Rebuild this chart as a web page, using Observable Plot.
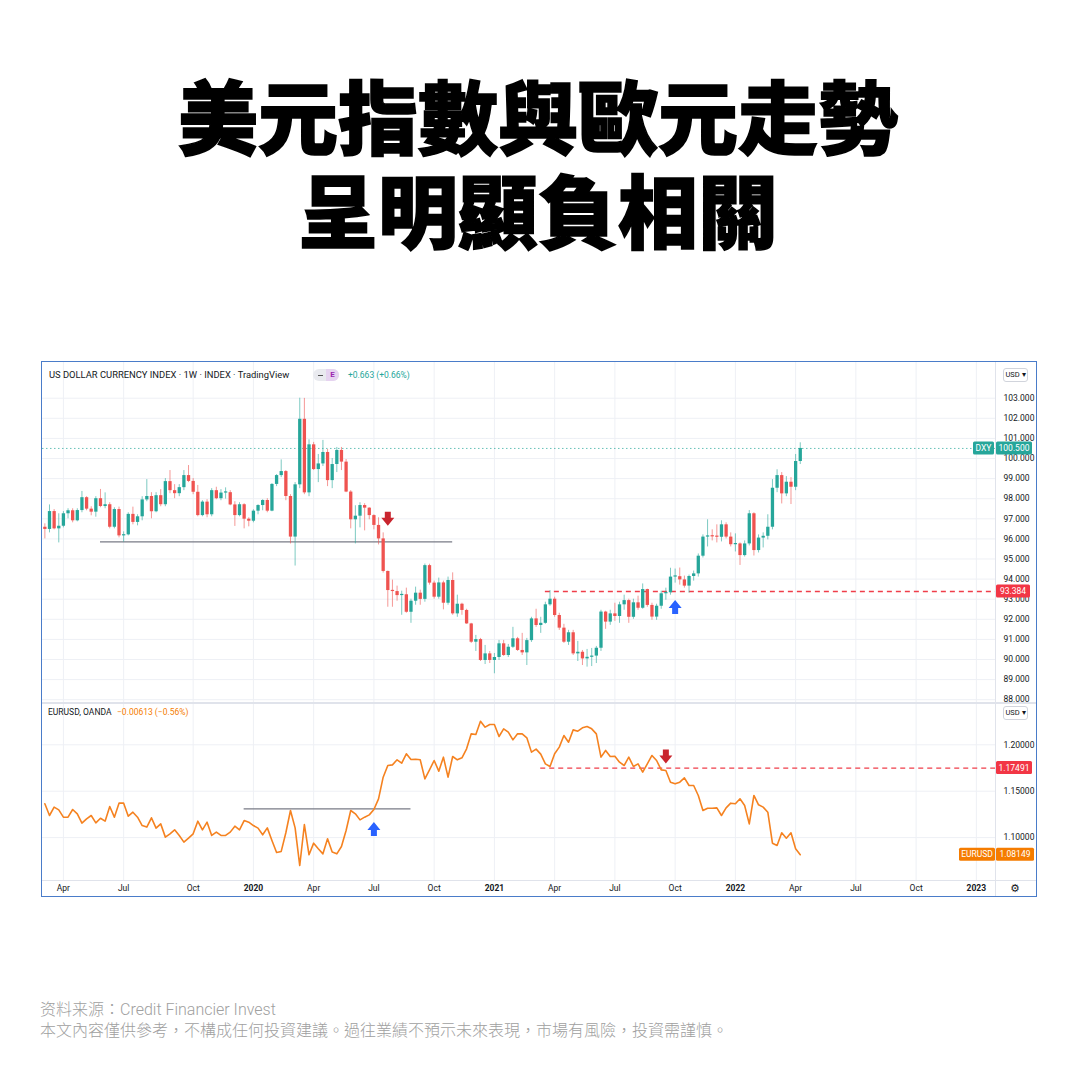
<!DOCTYPE html>
<html><head><meta charset="utf-8">
<script src="https://cdn.jsdelivr.net/npm/d3@7"></script>
<script src="https://cdn.jsdelivr.net/npm/@observablehq/plot@0.6"></script>
<style>
@font-face{font-family:"TitleCJK";src:local("Noto Sans CJK TC Black"),local("NotoSansCJKtc-Black"),local("Noto Sans CJK TC Bold"),local("NotoSansCJKtc-Bold");ascent-override:94%;descent-override:6%;line-gap-override:0%}
@font-face{font-family:"NoteCJK";src:local("Noto Sans CJK TC Light"),local("NotoSansCJKtc-Light"),local("Noto Sans CJK TC DemiLight"),local("NotoSansCJKtc-DemiLight"),local("Noto Sans CJK TC Regular"),local("NotoSansCJKtc-Regular");ascent-override:94%;descent-override:6%;line-gap-override:0%}
body{margin:0;background:#fff;width:1080px;height:1080px;position:relative;overflow:hidden;font-family:Roboto,"Noto Sans",sans-serif}
.title{position:absolute;left:0;width:1076px;height:94px;text-align:center;font-family:"TitleCJK","Noto Sans CJK TC";font-weight:900;font-size:80px;line-height:94px;color:#000;-webkit-text-stroke:1.6px #000;white-space:nowrap}
#chart{position:absolute;left:42px;top:362px;width:995px;height:535px;background:#fff}
#frame{position:absolute;left:41px;top:361px;width:994px;height:534px;border:1.5px solid #4a7cc9;pointer-events:none}
#upper{position:absolute;left:0;top:0}
#lower{position:absolute;left:0;top:341px}
.sep{position:absolute;background:#e0e3eb}
.hdr{position:absolute;font-size:9.4px;color:#131722;white-space:nowrap;font-family:Roboto,sans-serif}
.btn{position:absolute;width:23px;height:12px;border:1px solid #d1d4dc;border-radius:3px;font-size:7.5px;line-height:12px;text-align:center;color:#131722;background:#fff}
.note{position:absolute;left:40px;font-size:16px;line-height:21px;height:21px;color:#a0a0a0;font-family:"NoteCJK",Roboto,sans-serif;font-weight:400;white-space:nowrap}
.note .lat{font-family:Roboto,"Liberation Sans",sans-serif;font-weight:300}
</style></head>
<body>
<div class="title" style="top:66px">美元指數與歐元走勢</div>
<div class="title" style="top:160px">呈明顯負相關</div>
<div id="chart">
  <div id="upper"></div>
  <div id="lower"></div>
  <div class="sep" style="left:953px;top:0;width:1px;height:535px"></div>
  <div class="sep" style="left:0;top:340px;width:995px;height:1.5px"></div>
  <div class="sep" style="left:0;top:518px;width:995px;height:1px"></div>
  <div class="hdr" style="left:7px;top:7px">US DOLLAR CURRENCY INDEX · 1W · INDEX · TradingView</div>
  <div style="position:absolute;left:271px;top:7px;width:26px;height:12px;border-radius:6px;background:#e9eaef;overflow:hidden">
    <div style="position:absolute;left:5px;top:5.5px;width:5px;height:1.5px;background:#555"></div>
    <div style="position:absolute;left:13px;top:0;width:13px;height:12px;background:#e6d3f0;color:#9c27b0;font-size:8px;line-height:12px;text-align:center;font-weight:bold">E</div>
  </div>
  <div class="hdr" style="left:306px;top:8px;font-size:8.5px;color:#26a69a">+0.663 (+0.66%)</div>
  <div class="hdr" style="left:6px;top:345px;font-size:8.5px">EURUSD, OANDA</div>
  <div class="hdr" style="left:75px;top:345px;font-size:8.5px;color:#f57c00">−0.00613 (−0.56%)</div>
  <div class="btn" style="left:961px;top:6px">USD ▾</div>
  <div class="btn" style="left:961px;top:344px">USD ▾</div>
  <div style="position:absolute;left:968px;top:518px;width:14px;height:17px;font-size:11px;line-height:17px;color:#131722;font-family:'DejaVu Sans'">⚙</div>
</div>
<div id="frame"></div>
<div class="note" style="top:998px">资料来源：<span class="lat">Credit Financier Invest</span></div>
<div class="note" style="top:1019px">本文內容僅供參考，不構成任何投資建議。過往業績不預示未來表現，市場有風險，投資需謹慎。</div>
<script>
// ---------- DATA ----------
const firstWeek = "2019-02-25"; // weekly bars, Monday start
const dxyOpen = [96.58,96.47,97.36,96.50,96.63,97.25,97.40,96.90,97.41,98.05,97.48,97.33,98.00,97.61,97.70,96.58,97.46,96.15,96.20,97.22,
96.82,97.10,97.94,98.11,97.35,98.15,97.70,98.85,98.40,98.25,98.55,99.15,98.86,98.32,97.16,97.83,97.20,98.40,98.00,98.28,
98.30,97.69,97.16,97.70,96.98,96.88,97.38,97.66,97.91,97.38,98.71,99.15,99.35,98.11,96.09,98.69,101.95,98.29,100.68,99.45,
99.73,100.30,98.90,99.70,100.40,99.82,98.33,96.95,97.13,97.66,97.53,97.16,96.67,96.00,94.38,93.43,93.38,93.18,93.22,92.35,
92.90,93.30,92.99,94.67,93.80,93.10,93.81,92.80,93.93,92.27,92.75,92.44,91.77,90.86,90.99,89.95,90.28,89.95,90.10,90.78,
90.20,90.61,91.03,90.45,90.33,90.94,92.02,91.69,91.80,92.72,93.00,92.19,91.56,90.86,91.33,90.28,90.36,90.03,90.11,90.17,
90.56,92.36,91.86,92.27,92.14,92.72,92.93,92.10,92.82,92.55,93.48,92.69,92.11,92.65,93.27,93.32,94.10,94.12,93.96,93.65,
94.13,94.26,95.14,96.09,96.14,96.10,96.08,96.70,96.09,95.71,95.75,95.17,95.75,97.25,95.42,96.04,96.13,96.58,98.52,99.15,
98.24,98.82,98.57,99.85];
const dxyHigh = [96.75,97.69,97.46,97.25,97.36,97.50,97.50,97.50,98.36,98.10,97.60,98.10,98.46,98.29,97.80,97.55,97.58,96.35,97.30,97.58,
97.20,98.10,98.95,98.30,98.30,98.45,99.00,99.40,98.70,98.70,99.40,99.65,99.00,98.66,97.90,97.95,98.50,98.57,98.45,98.54,
98.40,97.85,97.80,97.75,97.05,97.45,97.70,97.95,98.00,98.75,99.20,99.93,99.40,98.20,98.80,103.00,102.99,100.93,100.80,100.20,
100.90,100.45,100.00,100.55,100.55,99.95,98.40,97.65,97.80,97.75,97.55,97.20,97.05,96.30,94.40,93.95,93.65,93.40,93.55,93.00,
93.60,93.45,94.75,94.74,93.90,94.05,93.90,94.10,94.31,93.20,92.80,92.50,91.80,91.20,91.05,90.70,90.40,90.30,90.95,90.95,
90.75,91.60,91.10,91.30,91.05,92.10,92.50,92.10,92.85,93.43,93.10,92.30,91.75,91.45,91.45,90.90,90.45,90.50,90.55,90.65,
92.45,92.40,92.45,92.80,92.85,93.20,93.00,93.00,93.15,93.76,93.50,92.80,92.75,93.40,93.55,94.54,94.50,94.55,94.15,94.20,
94.40,95.25,96.20,96.95,96.45,96.70,96.90,96.80,96.30,96.25,95.80,95.90,97.41,97.30,96.20,96.30,97.20,98.95,99.44,99.30,
99.10,99.05,100.20,100.78];
const dxyLow = [96.00,96.30,96.45,95.80,96.55,97.00,96.80,96.85,97.30,97.40,97.15,97.08,97.55,97.50,96.50,96.50,96.05,95.84,96.15,96.70,
96.65,96.90,97.85,97.00,97.30,97.60,97.60,98.25,98.00,98.10,98.40,98.80,98.20,97.10,97.10,97.05,97.10,97.95,97.90,97.98,
97.65,96.62,97.10,96.50,96.60,96.80,97.20,97.40,97.30,97.35,98.60,99.05,97.90,95.75,94.65,98.50,98.20,98.10,99.40,98.80,
99.60,98.60,98.50,99.30,99.40,98.30,96.50,95.75,96.55,96.40,96.95,96.45,95.70,94.30,92.60,92.60,92.90,92.20,92.30,91.80,
92.70,92.70,92.85,93.70,93.00,93.00,92.47,92.70,92.20,92.10,92.20,91.75,90.80,90.40,89.90,89.75,89.80,89.29,89.95,90.15,
90.10,90.55,90.40,90.20,89.70,90.85,91.60,91.30,91.75,92.65,92.10,91.45,90.80,90.70,90.20,89.90,89.70,89.62,89.65,89.80,
90.40,91.50,91.70,91.90,91.80,92.45,91.80,92.00,92.45,92.50,92.60,91.95,91.95,92.50,92.95,93.20,93.80,93.70,93.55,93.30,
93.90,94.10,95.05,95.60,95.90,95.80,95.85,96.00,95.60,95.35,94.68,95.10,95.65,95.15,95.30,95.55,95.95,96.45,98.30,97.74,
98.10,97.71,98.40,99.70];
const dxyClose = [96.47,97.36,96.50,96.63,97.25,97.40,96.90,97.41,98.05,97.48,97.33,98.00,97.61,97.70,96.58,97.46,96.15,96.20,97.22,96.82,
97.10,97.94,98.11,97.35,98.15,97.70,98.85,98.40,98.25,98.55,99.15,98.86,98.32,97.16,97.83,97.20,98.40,98.00,98.28,98.30,
97.69,97.16,97.70,96.98,96.88,97.38,97.66,97.91,97.38,98.71,99.15,99.35,98.11,96.09,98.69,101.95,98.29,100.68,99.45,99.73,
100.30,98.90,99.70,100.40,99.82,98.33,96.95,97.13,97.66,97.53,97.16,96.67,96.00,94.38,93.43,93.38,93.18,93.22,92.35,92.90,
93.30,92.99,94.67,93.80,93.10,93.81,92.80,93.93,92.27,92.75,92.44,91.77,90.86,90.99,89.95,90.28,89.95,90.10,90.78,90.20,
90.61,91.03,90.45,90.33,90.94,92.02,91.69,91.80,92.72,93.00,92.19,91.56,90.86,91.33,90.28,90.36,90.03,90.11,90.17,90.56,
92.36,91.86,92.27,92.14,92.72,92.93,92.10,92.82,92.55,93.48,92.69,92.11,92.65,93.27,93.32,94.10,94.12,93.96,93.65,94.13,
94.26,95.14,96.09,96.14,96.10,96.08,96.70,96.09,95.71,95.75,95.17,95.75,97.25,95.42,96.04,96.13,96.58,98.52,99.15,98.24,
98.82,98.57,99.85,100.50];
const eurusdClose = [1.1364,1.1238,1.1328,1.1299,1.1220,1.1220,1.1303,1.1256,1.1156,1.1202,1.1238,1.1159,1.1209,1.1177,1.1335,1.1220,1.1371,1.1371,1.1231,1.1274,
1.1220,1.1130,1.1113,1.1213,1.1102,1.1148,1.1005,1.1041,1.1084,1.1023,1.0951,1.0994,1.1041,1.1177,1.1084,1.1166,1.1023,1.1059,1.1023,1.1023,
1.1059,1.1123,1.1084,1.1184,1.1166,1.1130,1.1102,1.1030,1.1105,1.0969,1.0840,1.0851,1.1052,1.1292,1.1105,1.0699,1.1141,1.0815,1.0940,1.0879,
1.0825,1.0987,1.0844,1.0825,1.0904,1.1077,1.1292,1.1256,1.1191,1.1220,1.1245,1.1303,1.1418,1.1651,1.1777,1.1784,1.1838,1.1802,1.1903,1.1842,
1.1845,1.1838,1.1633,1.1730,1.1831,1.1716,1.1867,1.1651,1.1874,1.1838,1.1860,1.1957,1.2118,1.2111,1.2254,1.2190,1.2219,1.2219,1.2089,1.2172,
1.2136,1.2053,1.2118,1.2118,1.2075,1.1921,1.1953,1.1900,1.1795,1.1766,1.1903,1.1975,1.2100,1.2028,1.2161,1.2147,1.2183,1.2197,1.2172,1.2118,
1.1867,1.1939,1.1874,1.1877,1.1813,1.1777,1.1867,1.1766,1.1795,1.1705,1.1795,1.1885,1.1831,1.1730,1.1723,1.1597,1.1579,1.1597,1.1644,1.1561,
1.1561,1.1454,1.1292,1.1317,1.1317,1.1320,1.1238,1.1320,1.1371,1.1364,1.1418,1.1346,1.1148,1.1454,1.1353,1.1328,1.1274,1.0940,1.0915,1.1052,
1.0994,1.1052,1.0879,1.0815];

const dxyTicks = [88,89,90,91,92,93,94,95,96,97,98,99,100,101,102,103];
const eurTicks = [1.10,1.15,1.20];
const monthTickDates = ["2019-03-25","2019-06-24","2019-10-07","2020-04-06","2020-07-06","2020-10-05","2021-04-05","2021-07-05","2021-10-04","2022-04-04","2022-07-04","2022-10-03"];
const monthTickLabels = ["Apr","Jul","Oct","Apr","Jul","Oct","Apr","Jul","Oct","Apr","Jul","Oct"];
const yearTickDates = ["2020-01-06","2021-01-04","2022-01-03","2023-01-02"];
const yearTickLabels = ["2020","2021","2022","2023"];

// annotations
const dxySupport = [{start:"2019-05-20", end:"2020-11-02", level:95.85}];
const dxyBreakout = [{start:"2021-03-22", level:93.384, label:"93.384"}];
const dxyLast = [{level:100.5, label:"100.500", name:"DXY"}];
const eurSupport = [{start:"2019-12-23", end:"2020-08-31", level:1.131}];
const eurBreakdown = [{start:"2021-03-15", level:1.17491, label:"1.17491"}];
const eurLast = [{level:1.08149, label:"1.08149", name:"EURUSD"}];
const dxyDownArrows = [{date:"2020-07-27", v:97.0}];
const dxyUpArrows = [{date:"2021-10-04", v:92.61}];
const eurUpArrows = [{date:"2020-07-06", v:1.1093}];
const eurDownArrows = [{date:"2021-09-20", v:1.1874}];

// ---------- BUILD ----------
const WEEK = 7*864e5;
const t0 = Date.parse(firstWeek);
const dates = dxyClose.map((_, i) => new Date(t0 + i*WEEK));
const candles = dates.map((d, i) => ({date:d, o:dxyOpen[i], h:dxyHigh[i], l:dxyLow[i], c:dxyClose[i], up: dxyClose[i] >= dxyOpen[i]}));
const eur = dates.map((d, i) => ({date:d, v:eurusdClose[i]}));
const D = s => new Date(s);

const anchor = Date.UTC(2022,0,3);
const xDomain = [new Date(anchor - 149.51*WEEK), new Date(anchor + 56.13*WEEK)];
const GREEN = "#26a69a", RED = "#ef5350", ORANGE = "#f58220", DASHRED = "#ef3e4a";
const GRID = "#eef0f5";

const arrowDown = {draw(ctx){ctx.moveTo(-3,-7);ctx.lineTo(3,-7);ctx.lineTo(3,-1);ctx.lineTo(6.5,-1);ctx.lineTo(0,7);ctx.lineTo(-6.5,-1);ctx.lineTo(-3,-1);ctx.closePath();}};
const arrowUp = {draw(ctx){ctx.moveTo(-3,7);ctx.lineTo(3,7);ctx.lineTo(3,1);ctx.lineTo(6.5,1);ctx.lineTo(0,-7);ctx.lineTo(-6.5,1);ctx.lineTo(-3,1);ctx.closePath();}};

const style = {fontFamily:"Roboto, sans-serif", fontSize:"8.5px", color:"#131722", background:"transparent", overflow:"visible"};

const allTickDates = monthTickDates.concat(yearTickDates).map(D);

const upper = Plot.plot({
  width: 995, height: 341,
  marginLeft: 0, marginRight: 42, marginTop: 0, marginBottom: 0,
  x: {type:"utc", domain: xDomain, axis: null},
  y: {domain: [87.811, 104.776], axis: null},
  style,
  marks: [
    Plot.ruleY(dxyTicks, {stroke: GRID}),
    Plot.ruleX(allTickDates, {stroke: GRID}),
    Plot.ruleY(dxyLast, {y:"level", stroke: GREEN, strokeDasharray:"1.5,2.5", strokeOpacity:0.7}),
    Plot.ruleY(dxySupport, {y:"level", x1: d=>D(d.start), x2: d=>D(d.end), stroke:"#787b86", strokeWidth:1.3}),
    Plot.ruleY(dxyBreakout, {y:"level", x1: d=>D(d.start), x2: () => xDomain[1], stroke: DASHRED, strokeWidth:1.3, strokeDasharray:"5,4"}),
    Plot.ruleX(candles, {x:"date", y1:"l", y2:"h", stroke: d => d.up ? GREEN : RED, strokeWidth:1, strokeOpacity:0.6}),
    Plot.ruleX(candles, {x:"date", y1: d => Math.min(d.o, d.c), y2: d => Math.max(d.o, d.c, Math.min(d.o, d.c) + 0.06), stroke: d => d.up ? GREEN : RED, strokeWidth:3.3}),
    Plot.dot(dxyDownArrows, {x: d=>D(d.date), y:"v", symbol: arrowDown, fill:"#c9252e", stroke:null}),
    Plot.dot(dxyUpArrows, {x: d=>D(d.date), y:"v", symbol: arrowUp, fill:"#2962ff", stroke:null}),
    Plot.axisY(dxyTicks, {anchor:"right", tickSize:0, tickPadding:8, tickFormat: d => d.toFixed(3), label:null, fill:"#131722"})
  ]
});
document.getElementById("upper").appendChild(upper);

const lower = Plot.plot({
  width: 995, height: 194,
  marginLeft: 0, marginRight: 42, marginTop: 0, marginBottom: 17,
  x: {type:"utc", domain: xDomain, axis: null},
  y: {domain: [1.05377, 1.2445], axis: null},
  style,
  marks: [
    Plot.ruleY(eurTicks, {stroke: GRID}),
    Plot.ruleX(allTickDates, {stroke: GRID}),
    Plot.ruleY(eurSupport, {y:"level", x1: d=>D(d.start), x2: d=>D(d.end), stroke:"#787b86", strokeWidth:1.3}),
    Plot.ruleY(eurBreakdown, {y:"level", x1: d=>D(d.start), x2: () => xDomain[1], stroke: DASHRED, strokeWidth:1.3, strokeDasharray:"5,4"}),
    Plot.line(eur, {x:"date", y:"v", stroke: ORANGE, strokeWidth:1.6}),
    Plot.dot(eurUpArrows, {x: d=>D(d.date), y:"v", symbol: arrowUp, fill:"#2962ff", stroke:null}),
    Plot.dot(eurDownArrows, {x: d=>D(d.date), y:"v", symbol: arrowDown, fill:"#c9252e", stroke:null}),
    Plot.axisY(eurTicks, {anchor:"right", tickSize:0, tickPadding:8, tickFormat: d => d.toFixed(5), label:null, fill:"#131722"}),
    Plot.axisX(monthTickDates.map(D), {tickSize:0, tickPadding:4, tickFormat: d => monthTickLabels[monthTickDates.findIndex(s => +D(s) === +d)], label:null, fill:"#131722"}),
    Plot.axisX(yearTickDates.map(D), {tickSize:0, tickPadding:4, tickFormat: d => yearTickLabels[yearTickDates.findIndex(s => +D(s) === +d)], label:null, fontWeight:"bold", fill:"#131722"})
  ]
});
document.getElementById("lower").appendChild(lower);

// price tags placed through the plots' own y scales
function yFn(plot, domain, range){
  const s = plot.scale && plot.scale("y");
  if (s && typeof s.apply === "function") return v => s.apply(v);
  return d3.scaleLinear(domain, range);
}
function tag(svg, y, x, w, text, color){
  const g = d3.select(svg).append("g");
  g.append("rect").attr("x", x).attr("y", y - 6.5).attr("width", w).attr("height", 13).attr("rx", 1.5).attr("fill", color);
  g.append("text").attr("x", x + w/2).attr("y", y).attr("dy", "0.35em").attr("text-anchor", "middle")
    .attr("fill", "#fff").attr("font-size", "8.5px").attr("font-family", "Roboto, sans-serif").text(text);
}
const yU = yFn(upper, [87.811, 104.776], [341, 0]);
const yL = yFn(lower, [1.05377, 1.2445], [177, 0]);
dxyLast.forEach(d => { tag(upper, yU(d.level), 931, 21, d.name, GREEN); tag(upper, yU(d.level), 954, 36, d.label, GREEN); });
dxyBreakout.forEach(d => tag(upper, yU(d.level), 954, 34, d.label, "#f23645"));
eurBreakdown.forEach(d => tag(lower, yL(d.level), 954, 36, d.label, "#f23645"));
eurLast.forEach(d => { tag(lower, yL(d.level), 917, 36, d.name, "#f57c00"); tag(lower, yL(d.level), 954, 38, d.label, "#f57c00"); });
</script>
</body></html>
